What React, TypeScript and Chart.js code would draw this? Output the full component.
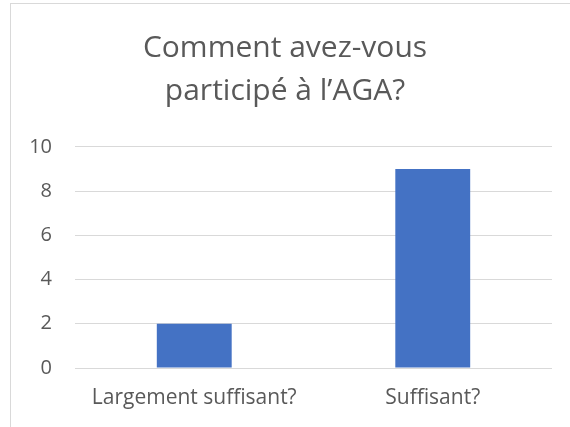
import React, { useEffect, useRef } from "react";
import { Chart, registerables } from "chart.js";

Chart.register(...registerables);

const titleLines = ["Comment avez-vous", "participé à l’AGA?"];
const categories = ["Largement suffisant?", "Suffisant?"];
const values = [2, 9];
const yTicks = [0, 2, 4, 6, 8, 10];

const FONT = "'Open Sans', 'Noto Sans', sans-serif";
const TEXT = "#595959";

export default function App() {
  const ref = useRef<HTMLCanvasElement | null>(null);

  useEffect(() => {
    if (!ref.current) return;
    const chart = new Chart(ref.current, {
      type: "bar",
      data: {
        labels: categories,
        datasets: [
          {
            data: values,
            backgroundColor: "#4472C4",
            borderWidth: 0,
            categoryPercentage: 1,
            barPercentage: 0.314,
          },
        ],
      },
      options: {
        responsive: false,
        animation: false,
        layout: { padding: { left: 18, right: 18, top: 0, bottom: 0 } },
        plugins: {
          legend: { display: false },
          tooltip: { enabled: false },
          title: {
            display: true,
            text: titleLines,
            color: TEXT,
            font: { family: FONT, size: 30, weight: "normal", lineHeight: 1.43 },
            padding: { top: 27, bottom: 34 },
          },
        },
        scales: {
          x: {
            grid: { display: false, drawTicks: false },
            border: { display: false },
            ticks: {
              color: TEXT,
              font: { family: FONT, size: 21 },
              padding: 17,
              autoSkip: false,
              maxRotation: 0,
            },
            afterFit: (s: any) => {
              s.height = 59;
            },
          },
          y: {
            min: 0,
            max: 10,
            afterBuildTicks: (s: any) => {
              s.ticks = yTicks.map((v) => ({ value: v }));
            },
            grid: { color: "#D9D9D9", lineWidth: 1, drawTicks: false },
            border: { display: false },
            ticks: {
              color: TEXT,
              font: { family: FONT, size: 20 },
              padding: 23,
            },
            afterFit: (s: any) => {
              s.width = 57;
            },
          },
        },
      },
    });
    return () => chart.destroy();
  }, []);

  return (
    <div
      style={{
        position: "fixed",
        left: 0,
        top: 0,
        width: 570,
        height: 427,
        background: "#fff",
        overflow: "hidden",
      }}
    >
      <div
        style={{
          position: "absolute",
          left: 10,
          top: 3,
          width: 620,
          height: 500,
          border: "1px solid #D9D9D9",
        }}
      />
      <canvas
        ref={ref}
        width={570}
        height={427}
        style={{ position: "absolute", left: 0, top: 0, width: 570, height: 427 }}
      />
    </div>
  );
}
